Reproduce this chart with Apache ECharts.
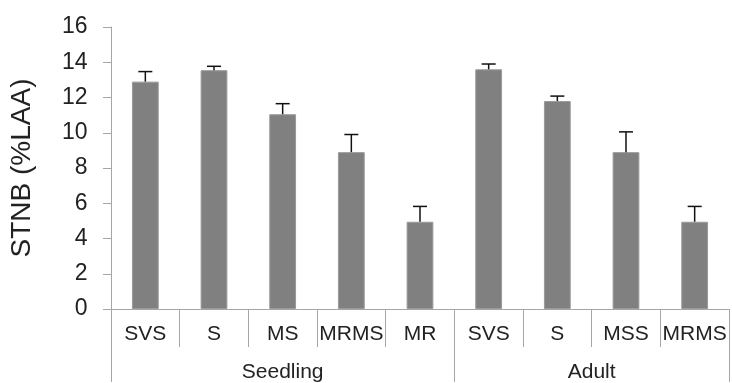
<!DOCTYPE html>
<html>
<head>
<meta charset="utf-8">
<script src="https://cdn.jsdelivr.net/npm/echarts@6/dist/echarts.min.js"></script>
<style>html,body{margin:0;padding:0;background:#fff}#c{width:732px;height:383px}</style>
</head>
<body>
<div id="c"></div>
<script>
var categories = ['SVS', 'S', 'MS', 'MRMS', 'MR', 'SVS', 'S', 'MSS', 'MRMS'];
var values = [12.9, 13.55, 11.05, 8.9, 4.95, 13.6, 11.8, 8.9, 4.95];
var errors = [0.57, 0.22, 0.6, 1.0, 0.87, 0.3, 0.28, 1.15, 0.87];
var groupSlots = ['', '', '', '', '', 'Seedling', '', '', '', '', '', '', '', '', 'Adult', '', '', '', ''];
var groupBoundaries = [0, 10, 18];
var yTicks = [0, 2, 4, 6, 8, 10, 12, 14, 16];

var font = '"Liberation Sans", Arial, sans-serif';
var chart = echarts.init(document.getElementById('c'));
chart.setOption({
  animation: false,
  grid: { left: 111, top: 27, width: 624, bottom: 73 },
  xAxis: [{
    type: 'category',
    data: categories,
    position: 'bottom',
    axisLine: { lineStyle: { color: '#a6a6a6', width: 1 } },
    axisTick: { show: true, interval: 0, length: 38, lineStyle: { color: '#a6a6a6' } },
    axisLabel: { interval: 0, margin: 15, fontSize: 21, color: '#222', fontFamily: font }
  }, {
    type: 'category',
    data: groupSlots,
    boundaryGap: false,
    position: 'bottom',
    axisLine: { show: false },
    axisTick: { show: true, length: 73, lineStyle: { color: '#a6a6a6' },
      interval: function (i) { return groupBoundaries.indexOf(i) >= 0; } },
    axisLabel: { interval: 0, margin: 53, fontSize: 21, color: '#222', fontFamily: font }
  }],
  yAxis: {
    type: 'value',
    min: yTicks[0], max: yTicks[yTicks.length - 1], interval: 2,
    name: 'STNB (%LAA)',
    nameLocation: 'middle',
    nameGap: 75,
    nameTextStyle: { fontSize: 28, color: '#222', fontFamily: font },
    axisLine: { show: true, lineStyle: { color: '#a6a6a6', width: 1 } },
    axisTick: { show: true, length: 8, lineStyle: { color: '#a6a6a6' } },
    splitLine: { show: false },
    axisLabel: { margin: 23.5, fontSize: 23, color: '#222', fontFamily: font }
  },
  series: [{
    type: 'bar',
    data: values,
    barWidth: '39%',
    itemStyle: { color: '#808080', borderColor: '#9a9a9a', borderWidth: 1 },
    z: 2
  }, {
    type: 'custom',
    data: values.map(function (v, i) { return [i, v, v + errors[i]]; }),
    z: 3,
    renderItem: function (params, api) {
      var x = api.value(0);
      var base = api.coord([x, api.value(1)]);
      var top = api.coord([x, api.value(2)]);
      var half = 7;
      var style = { stroke: '#111', lineWidth: 1.5 };
      return {
        type: 'group',
        children: [
          { type: 'line', shape: { x1: base[0], y1: base[1], x2: top[0], y2: top[1] }, style: style },
          { type: 'line', shape: { x1: top[0] - half, y1: top[1], x2: top[0] + half, y2: top[1] }, style: style }
        ]
      };
    }
  }]
});
</script>
</body>
</html>
